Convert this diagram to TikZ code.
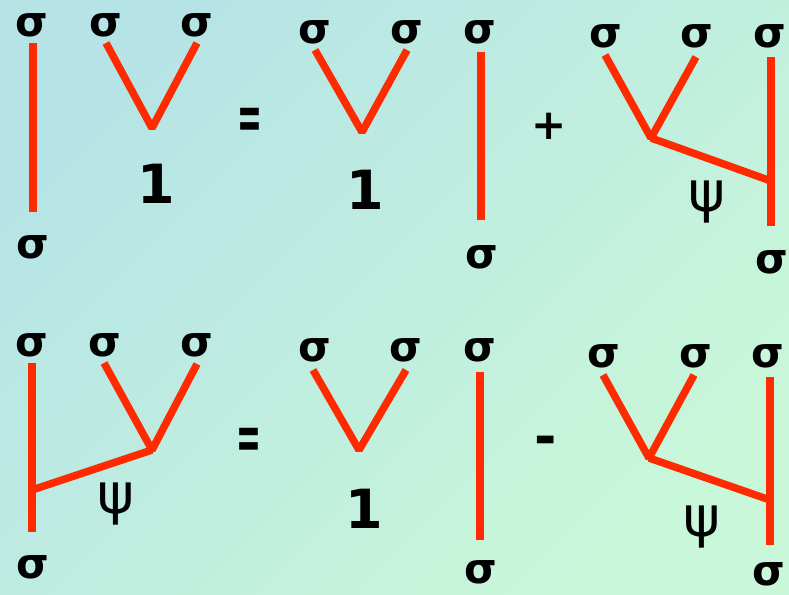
\documentclass[tikz,border=0pt]{standalone}
\usepackage{fontspec}
\setmainfont{DejaVu Sans}
\usepackage{tikz}
\definecolor{linered}{HTML}{FF2A00}
\definecolor{bgcyan}{HTML}{B6E4E6}
\definecolor{bggreen}{HTML}{C9F7D9}

\begin{document}
\begin{tikzpicture}[x=1pt, y=-1pt,
  wire/.style={draw=linered, line width=7.5pt, line join=bevel},
  lbl/.style={font=\fontsize{42}{46}\selectfont\bfseries, inner sep=0pt},
  chan/.style={font=\fontsize{56}{60}\selectfont, inner sep=0pt},
  one/.style={font=\fontsize{54}{58}\selectfont\bfseries, inner sep=0pt},
  sign/.style={font=\fontsize{42}{46}\selectfont\bfseries, inner sep=0pt},
  eqsign/.style={sign, font=\fontsize{48}{52}\selectfont\bfseries, xscale=0.62, yscale=1.35}]
\shade[top color=bgcyan, bottom color=bggreen, shading angle=45] (0,0) rectangle (789,594);
\useasboundingbox (0,0) rectangle (789,594);
% top row
\coordinate (ua1) at (33,43); \coordinate (ua2) at (33,212);
\node[lbl] (sa1) at (32,25) {σ}; \node[lbl] (sa2) at (33,247) {σ};
\coordinate (ub1) at (106,43); \coordinate (ub2) at (197,43); \coordinate (ubv) at (152,128);
\node[lbl] (sb1) at (106,25) {σ}; \node[lbl] (sb2) at (197,25) {σ};
\node[one] (nb) at (156,184) {1};
\node[eqsign] (eq1) at (250,124) {=};
\coordinate (uc1) at (315,50); \coordinate (uc2) at (407,50); \coordinate (ucv) at (362,132);
\node[lbl] (sc1) at (315,32) {σ}; \node[lbl] (sc2) at (407,32) {σ};
\node[one] (nc) at (365,190) {1};
\coordinate (ud1) at (481,52); \coordinate (ud2) at (481,220);
\node[lbl] (sd1) at (480,32) {σ}; \node[lbl] (sd2) at (482,257) {σ};
\node[sign] (pl) at (549,126) {+};
\coordinate (ue1) at (605,55); \coordinate (ue2) at (696,57); \coordinate (uev) at (651,138);
\coordinate (ue3) at (771,57); \coordinate (ue4) at (771,226); \coordinate (uej) at (771,181);
\node[lbl] (se1) at (606,36) {σ}; \node[lbl] (se2) at (697,36) {σ};
\node[lbl] (se3) at (770,36) {σ}; \node[lbl] (se4) at (772,262) {σ};
\node[chan] (pe) at (707,202) {ψ};
\draw[wire] (ua1) -- (ua2);
\draw[wire] (ub1) -- (ubv) -- (ub2);
\draw[wire] (uc1) -- (ucv) -- (uc2);
\draw[wire] (ud1) -- (ud2);
\draw[wire] (ue1) -- (uev) -- (ue2); \draw[wire] (ue3) -- (ue4); \draw[wire] (uev) -- (uej);
% bottom row
\coordinate (da1) at (32,363); \coordinate (da2) at (32,532); \coordinate (daj) at (32,490);
\coordinate (da3) at (104,363); \coordinate (da4) at (197,364); \coordinate (dav) at (152,450);
\node[lbl] (ta1) at (32,345) {σ}; \node[lbl] (ta3) at (105,345) {σ};
\node[lbl] (ta4) at (197,345) {σ}; \node[lbl] (ta2) at (33,567) {σ};
\node[chan] (pa) at (116,504) {ψ};
\node[eqsign] (eq2) at (249,444) {=};
\coordinate (dc1) at (313,370); \coordinate (dc2) at (406,370); \coordinate (dcv) at (359,450);
\node[lbl] (tc1) at (315,350) {σ}; \node[lbl] (tc2) at (406,350) {σ};
\node[one] (nd) at (364,509) {1};
\coordinate (dd1) at (480,372); \coordinate (dd2) at (480,540);
\node[lbl] (td1) at (480,350) {σ}; \node[lbl] (td2) at (481,572) {σ};
\node[sign, font=\fontsize{54}{58}\selectfont\bfseries] (mi) at (546,446) {-};
\coordinate (de1) at (603,375); \coordinate (de2) at (694,375); \coordinate (dev) at (649,458);
\coordinate (de3) at (770,377); \coordinate (de4) at (770,545); \coordinate (dej) at (770,500);
\node[lbl] (te1) at (604,356) {σ}; \node[lbl] (te2) at (696,356) {σ};
\node[lbl] (te3) at (768,356) {σ}; \node[lbl] (te4) at (769,574) {σ};
\node[chan] (pd) at (702,527) {ψ};
\draw[wire] (da1) -- (da2); \draw[wire] (da3) -- (dav) -- (da4); \draw[wire] (dav) -- (daj);
\draw[wire] (dc1) -- (dcv) -- (dc2);
\draw[wire] (dd1) -- (dd2);
\draw[wire] (de1) -- (dev) -- (de2); \draw[wire] (de3) -- (de4); \draw[wire] (dev) -- (dej);
\end{tikzpicture}
\end{document}
